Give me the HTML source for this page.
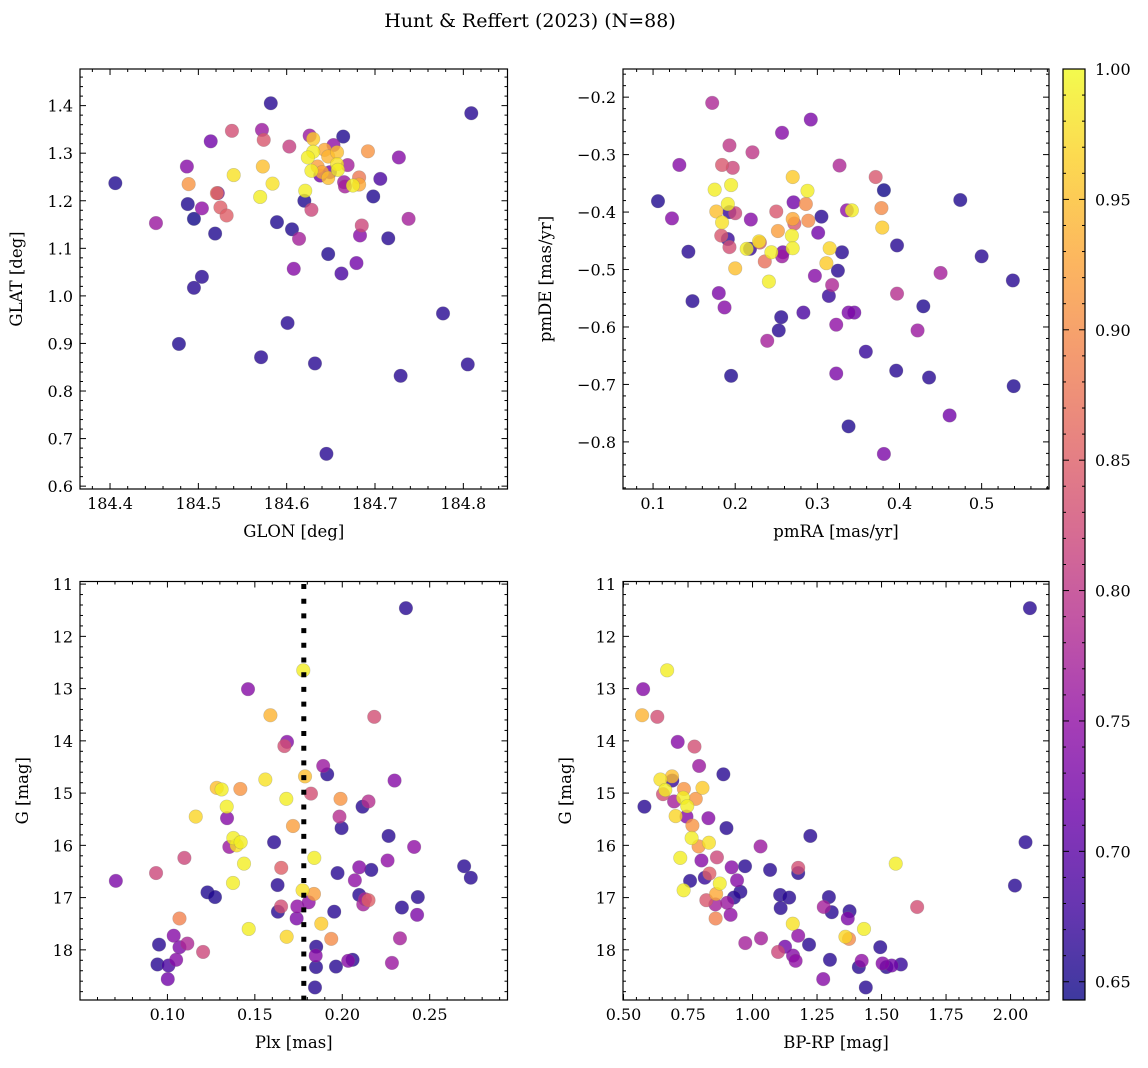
<!DOCTYPE html>
<html><head><meta charset="utf-8"><style>
body{margin:0;background:#fff}
svg{display:block;font-family:"DejaVu Serif","Liberation Serif",serif}
</style></head><body>
<svg id="fig" width="1148" height="1068" viewBox="0 0 1148 1068" xmlns="http://www.w3.org/2000/svg">
<defs>
<linearGradient id="cbgrad" x1="0" y1="1" x2="0" y2="0">
<stop offset="0" stop-color="#0d0887"/><stop offset="0.1" stop-color="#41049d"/><stop offset="0.2" stop-color="#6a00a8"/><stop offset="0.3" stop-color="#8f0da4"/><stop offset="0.4" stop-color="#b12a90"/><stop offset="0.5" stop-color="#cc4778"/><stop offset="0.6" stop-color="#e16462"/><stop offset="0.7" stop-color="#f2844b"/><stop offset="0.8" stop-color="#fca636"/><stop offset="0.9" stop-color="#fcce25"/><stop offset="1" stop-color="#f0f921"/>
</linearGradient>
</defs>
<text x="530" y="27" text-anchor="middle" font-size="19">Hunt &amp; Reffert (2023) (N=88)</text>
</svg>
<script>
// ---------- data ----------
const p1Lon=[184.406,184.452,184.487,184.489,184.488,184.495,184.504,184.519,184.514,184.538,184.522,184.521,184.525,184.532,184.540,184.572,184.574,184.573,184.584,184.570,184.582,184.589,184.606,184.614,184.603,184.608,184.504,184.495,184.478,184.571,184.601,184.632,184.645,184.647,184.662,184.679,184.683,184.685,184.715,184.738,184.727,184.706,184.698,184.692,184.664,184.809,184.777,184.805,184.729,184.626,184.630,184.653,184.643,184.630,184.657,184.624,184.647,184.635,184.628,184.640,184.638,184.657,184.658,184.647,184.649,184.669,184.665,184.666,184.682,184.682,184.675,184.620,184.621,184.628];
const p1Lat=[1.237,1.153,1.272,1.235,1.193,1.162,1.184,1.131,1.325,1.347,1.216,1.216,1.186,1.169,1.254,1.349,1.328,1.272,1.236,1.208,1.405,1.155,1.140,1.120,1.314,1.057,1.040,1.017,0.899,0.871,0.943,0.858,0.668,1.088,1.047,1.069,1.127,1.148,1.121,1.162,1.291,1.246,1.209,1.304,1.335,1.384,0.963,0.856,0.832,1.337,1.330,1.317,1.307,1.303,1.302,1.291,1.293,1.272,1.263,1.260,1.253,1.277,1.265,1.248,1.260,1.275,1.239,1.230,1.249,1.234,1.232,1.200,1.221,1.181];
const p1Prob=[0.655,0.76,0.74,0.91,0.655,0.645,0.75,0.655,0.72,0.83,0.72,0.87,0.85,0.85,0.98,0.76,0.84,0.95,0.98,0.99,0.66,0.655,0.655,0.77,0.81,0.74,0.66,0.66,0.655,0.66,0.66,0.66,0.66,0.655,0.685,0.72,0.74,0.82,0.66,0.77,0.74,0.685,0.655,0.91,0.655,0.66,0.66,0.66,0.66,0.76,0.96,0.75,0.93,0.99,0.95,0.99,0.94,0.92,0.99,0.93,0.72,0.98,0.99,0.95,0.72,0.77,0.76,0.77,0.88,0.93,0.99,0.655,0.99,0.82];

const p2RA=[0.172,0.292,0.257,0.193,0.221,0.132,0.184,0.197,0.327,0.371,0.381,0.270,0.288,0.175,0.195,0.106,0.474,0.191,0.271,0.286,0.378,0.342,0.336,0.177,0.193,0.200,0.123,0.219,0.250,0.270,0.272,0.289,0.305,0.184,0.252,0.269,0.379,0.301,0.183,0.191,0.193,0.214,0.218,0.229,0.230,0.244,0.258,0.257,0.270,0.315,0.330,0.397,0.143,0.200,0.236,0.311,0.325,0.500,0.538,0.450,0.241,0.297,0.318,0.314,0.148,0.180,0.187,0.397,0.429,0.256,0.283,0.338,0.345,0.253,0.239,0.323,0.422,0.359,0.195,0.323,0.396,0.436,0.539,0.461,0.338,0.381];
const p2DE=[-0.210,-0.239,-0.262,-0.284,-0.296,-0.318,-0.318,-0.323,-0.319,-0.339,-0.362,-0.339,-0.363,-0.361,-0.353,-0.381,-0.379,-0.386,-0.383,-0.386,-0.393,-0.397,-0.397,-0.399,-0.400,-0.402,-0.411,-0.413,-0.399,-0.412,-0.420,-0.415,-0.408,-0.418,-0.433,-0.441,-0.427,-0.436,-0.441,-0.447,-0.461,-0.464,-0.464,-0.451,-0.453,-0.470,-0.470,-0.477,-0.463,-0.463,-0.470,-0.458,-0.469,-0.498,-0.486,-0.489,-0.502,-0.477,-0.519,-0.506,-0.521,-0.511,-0.527,-0.546,-0.555,-0.541,-0.566,-0.542,-0.564,-0.583,-0.575,-0.575,-0.575,-0.606,-0.624,-0.596,-0.606,-0.643,-0.685,-0.681,-0.676,-0.688,-0.703,-0.754,-0.773,-0.821];
const p2Prob=[0.78,0.73,0.74,0.8,0.8,0.74,0.84,0.82,0.78,0.84,0.645,0.96,0.99,0.99,0.99,0.655,0.655,0.99,0.72,0.9,0.9,0.99,0.75,0.95,0.67,0.82,0.74,0.74,0.84,0.93,0.84,0.9,0.66,0.98,0.92,0.99,0.96,0.72,0.84,0.67,0.83,0.99,0.67,0.98,0.84,0.99,0.72,0.76,0.99,0.97,0.66,0.66,0.66,0.95,0.87,0.96,0.66,0.66,0.66,0.77,0.99,0.74,0.78,0.67,0.66,0.73,0.74,0.79,0.655,0.66,0.685,0.73,0.72,0.66,0.77,0.75,0.76,0.67,0.655,0.73,0.66,0.66,0.655,0.72,0.655,0.73];

const p3Plx=[0.2364,0.1777,0.1461,0.1589,0.2183,0.1684,0.1669,0.1891,0.1914,0.1787,0.1560,0.2299,0.1282,0.1310,0.1417,0.1821,0.1680,0.1990,0.2150,0.2116,0.1339,0.1162,0.1341,0.1984,0.1996,0.1718,0.2265,0.2411,0.1610,0.1377,0.1354,0.1396,0.1419,0.1438,0.1840,0.1097,0.1651,0.2259,0.2097,0.2166,0.1973,0.2697,0.2735,0.0935,0.0705,0.2072,0.1375,0.1630,0.1773,0.1838,0.1229,0.1272,0.2097,0.2130,0.2150,0.2120,0.2432,0.2341,0.2428,0.1650,0.1632,0.1743,0.1808,0.1739,0.1954,0.1880,0.1069,0.1465,0.1682,0.1937,0.2330,0.1036,0.0952,0.1069,0.1114,0.1204,0.1050,0.0943,0.1006,0.1002,0.1851,0.1848,0.1850,0.1964,0.2034,0.2059,0.2284,0.1844];
const p3G=[11.46,12.65,13.01,13.51,13.54,14.02,14.10,14.48,14.64,14.68,14.74,14.76,14.90,14.93,14.92,15.01,15.11,15.11,15.16,15.26,15.26,15.45,15.48,15.45,15.67,15.63,15.82,16.03,15.94,15.86,16.03,16.00,15.94,16.35,16.24,16.24,16.43,16.29,16.42,16.47,16.53,16.40,16.62,16.53,16.68,16.67,16.72,16.76,16.86,16.93,16.90,16.99,16.95,17.03,17.05,17.13,16.99,17.19,17.33,17.17,17.27,17.17,17.09,17.40,17.27,17.50,17.40,17.60,17.75,17.79,17.78,17.73,17.90,17.95,17.88,18.04,18.19,18.28,18.30,18.56,17.94,18.11,18.33,18.32,18.21,18.19,18.25,18.72];
const p3Prob=[0.66,0.99,0.74,0.94,0.83,0.74,0.83,0.76,0.66,0.95,0.98,0.74,0.95,0.99,0.91,0.83,0.99,0.91,0.79,0.66,0.99,0.97,0.74,0.79,0.66,0.92,0.66,0.75,0.66,0.99,0.76,0.98,0.99,0.99,0.99,0.82,0.85,0.75,0.74,0.66,0.66,0.66,0.66,0.82,0.73,0.75,0.99,0.66,0.98,0.92,0.655,0.655,0.66,0.78,0.85,0.77,0.66,0.66,0.73,0.83,0.66,0.75,0.75,0.73,0.66,0.96,0.89,0.99,0.97,0.9,0.77,0.74,0.66,0.73,0.78,0.82,0.74,0.66,0.685,0.72,0.66,0.74,0.66,0.66,0.74,0.66,0.76,0.66];

const p4BPRP=[2.075,0.669,0.576,0.572,0.631,0.710,0.775,0.793,0.887,0.688,0.643,0.689,0.734,0.806,0.662,0.653,0.696,0.731,0.780,0.747,0.581,0.702,0.744,0.829,0.767,0.899,0.764,0.831,0.791,1.224,1.031,0.802,0.720,0.862,0.919,0.971,1.068,1.177,1.177,1.555,0.833,0.815,0.758,0.940,0.873,0.953,0.928,0.859,0.733,0.821,0.856,0.902,0.915,0.857,1.107,1.142,1.109,1.296,1.276,1.307,1.376,1.369,1.638,1.156,1.177,1.360,1.374,1.432,0.972,1.033,1.099,1.126,1.157,1.167,1.219,1.300,1.495,1.274,1.412,1.423,1.439,1.504,1.519,1.539,1.575,2.017,2.058];
const p4G=[11.46,12.65,13.01,13.51,13.54,14.02,14.11,14.48,14.64,14.68,14.74,14.76,14.92,14.90,14.94,15.02,15.16,15.09,15.11,15.25,15.26,15.44,15.45,15.48,15.62,15.67,15.86,15.95,16.02,15.82,16.02,16.29,16.24,16.23,16.42,16.40,16.47,16.43,16.53,16.35,16.54,16.62,16.68,16.67,16.73,16.89,17.00,16.93,16.86,17.05,17.13,17.10,17.33,17.40,16.95,17.00,17.20,16.99,17.18,17.28,17.26,17.40,17.18,17.50,17.73,17.75,17.79,17.60,17.87,17.78,18.04,17.94,18.11,18.21,17.90,18.19,17.95,18.56,18.33,18.21,18.72,18.26,18.33,18.30,18.28,16.77,15.94];
const p4Prob=[0.66,0.99,0.74,0.94,0.83,0.74,0.83,0.76,0.66,0.95,0.98,0.67,0.91,0.96,0.99,0.83,0.77,0.99,0.91,0.99,0.66,0.97,0.74,0.74,0.91,0.66,0.99,0.98,0.91,0.66,0.76,0.74,0.99,0.82,0.74,0.66,0.66,0.83,0.66,0.99,0.85,0.67,0.66,0.74,0.99,0.66,0.66,0.93,0.99,0.84,0.77,0.76,0.75,0.89,0.66,0.66,0.66,0.66,0.77,0.66,0.66,0.73,0.83,0.98,0.75,0.97,0.9,0.99,0.77,0.77,0.82,0.72,0.74,0.75,0.66,0.66,0.66,0.74,0.66,0.75,0.66,0.74,0.66,0.72,0.67,0.66,0.66];

const p1XTicks=[184.4,184.5,184.6,184.7,184.8];
const p1YTicks=[0.6,0.7,0.8,0.9,1.0,1.1,1.2,1.3,1.4];
const p2XTicks=[0.1,0.2,0.3,0.4,0.5];
const p2YTicks=[-0.8,-0.7,-0.6,-0.5,-0.4,-0.3,-0.2];
const p3XTicks=[0.10,0.15,0.20,0.25];
const gTicks=[11,12,13,14,15,16,17,18];
const p4XTicks=[0.50,0.75,1.00,1.25,1.50,1.75,2.00];
const cbTicks=[0.65,0.70,0.75,0.80,0.85,0.90,0.95,1.00];
const plxCut=0.178;

// ---------- helpers ----------
const NS='http://www.w3.org/2000/svg';
const svg=document.getElementById('fig');
function mk(tag,attrs,parent){const e=document.createElementNS(NS,tag);for(const k in attrs)e.setAttribute(k,attrs[k]);(parent||svg).appendChild(e);return e;}
const VMIN=0.643,VMAX=1.0;
const stops=[[13,8,135],[65,4,157],[106,0,168],[143,13,164],[177,42,144],[204,71,120],[225,100,98],[242,132,75],[252,166,54],[252,206,37],[240,249,33]];
function plasma(v){let t=(v-VMIN)/(VMAX-VMIN);t=Math.max(0,Math.min(1,t));const f=t*10,i=Math.min(9,Math.floor(f)),r=f-i;const a=stops[i],b=stops[i+1];return 'rgb('+[0,1,2].map(k=>Math.round(a[k]+(b[k]-a[k])*r)).join(',')+')';}

function panel(o){
  const {x0,x1,y0,y1,xmin,xmax,ymin,ymax,invY}=o;
  const sx=v=>x0+(v-xmin)/(xmax-xmin)*(x1-x0);
  const sy=invY?(v=>y0+(v-ymin)/(ymax-ymin)*(y1-y0)):(v=>y1-(v-ymin)/(ymax-ymin)*(y1-y0));
  const g=mk('g',{});
  
  
  const idx=o.xs.map((_,i)=>i).sort((a,b)=>o.ps[a]-o.ps[b]);
  const pg=mk('g',{},g);
  for(const i of idx){
    const c=mk('circle',{cx:sx(o.xs[i]),cy:sy(o.ys[i]),r:6.8,fill:plasma(o.ps[i]),'fill-opacity':0.8,stroke:'#777','stroke-opacity':0.35,'stroke-width':0.6},pg);
    
    
  }
  if(o.extra)o.extra(g,sx,sy);
  const fr=mk('rect',{x:x0,y:y0,width:x1-x0,height:y1-y0,fill:'none',stroke:'#000','stroke-width':1.2},g);
  
  
  const tg=mk('g',{stroke:'#000','stroke-width':1},g);
  const lo=Math.min(ymin,ymax),hi=Math.max(ymin,ymax);
  for(let k=Math.ceil(xmin/o.xminor-1e-6);k*o.xminor<=xmax+1e-9;k++){
    const v=k*o.xminor,X=sx(v);const maj=o.xt.some(t=>Math.abs(t-v)<1e-6);const L=maj?6:3;
    mk('line',{x1:X,y1:y1,x2:X,y2:y1-L},tg);mk('line',{x1:X,y1:y0,x2:X,y2:y0+L},tg);
  }
  for(let k=Math.ceil(lo/o.yminor-1e-6);k*o.yminor<=hi+1e-9;k++){
    const v=k*o.yminor,Y=sy(v);const maj=o.yt.some(t=>Math.abs(t-v)<1e-6);const L=maj?6:3;
    mk('line',{x1:x0,y1:Y,x2:x0+L,y2:Y},tg);mk('line',{x1:x1,y1:Y,x2:x1-L,y2:Y},tg);
  }
  for(const t of o.xt){if(t<xmin-1e-9||t>xmax+1e-9)continue;
    const e=mk('text',{x:sx(t),y:y1+20,'text-anchor':'middle','font-size':16},g);e.textContent=t.toFixed(o.xd);
    
    }
  for(const t of o.yt){if(t<lo-1e-9||t>hi+1e-9)continue;
    const e=mk('text',{x:x0-7,y:sy(t)+6,'text-anchor':'end','font-size':16},g);e.textContent=t.toFixed(o.yd).replace('-','\u2212');
    
    }
  const xl=mk('text',{x:(x0+x1)/2,y:y1+48,'text-anchor':'middle','font-size':16.5},g);xl.textContent=o.xlabel;
  
  
  const yl=mk('text',{x:o.ylx,y:(y0+y1)/2,'text-anchor':'middle','font-size':16.5,transform:'rotate(-90 '+o.ylx+' '+(y0+y1)/2+')'},g);yl.textContent=o.ylabel;
  
  
}

panel({name:'glon-glat-panel',x0:80,x1:507.5,y0:69,y1:489,xmin:184.366,xmax:184.850,ymin:0.594,ymax:1.477,xs:p1Lon,ys:p1Lat,ps:p1Prob,xt:p1XTicks,yt:p1YTicks,xminor:0.02,yminor:0.02,xd:1,yd:1,xlabel:'GLON [deg]',ylabel:'GLAT [deg]',ylx:22});
panel({name:'proper-motion-panel',x0:623,x1:1049,y0:69,y1:489,xmin:0.0634,xmax:0.582,ymin:-0.882,ymax:-0.151,xs:p2RA,ys:p2DE,ps:p2Prob,xt:p2XTicks,yt:p2YTicks,xminor:0.02,yminor:0.02,xd:1,yd:1,xlabel:'pmRA [mas/yr]',ylabel:'pmDE [mas/yr]',ylx:551});
panel({name:'parallax-magnitude-panel',x0:80,x1:507.5,y0:581.5,y1:1000,xmin:0.050,xmax:0.2945,ymin:10.95,ymax:18.96,invY:true,xs:p3Plx,ys:p3G,ps:p3Prob,xt:p3XTicks,yt:gTicks,xminor:0.01,yminor:0.2,xd:2,yd:0,xlabel:'Plx [mas]',ylabel:'G [mag]',ylx:28,
  extra:(g,sx,sy)=>{const l=mk('line',{x1:sx(plxCut),x2:sx(plxCut),y1:584,y2:1000,stroke:'#000','stroke-width':5,'stroke-dasharray':'5 9.7'},g);
    
    }});
panel({name:'color-magnitude-panel',x0:623,x1:1049,y0:581.5,y1:1000,xmin:0.498,xmax:2.149,ymin:10.95,ymax:18.96,invY:true,xs:p4BPRP,ys:p4G,ps:p4Prob,xt:p4XTicks,yt:gTicks,xminor:0.05,yminor:0.2,xd:2,yd:0,xlabel:'BP-RP [mag]',ylabel:'G [mag]',ylx:571});

(function(){
  const x0=1063,x1=1085,y0=69,y1=1000;
  const sy=v=>y1-(v-VMIN)/(VMAX-VMIN)*(y1-y0);
  const g=mk('g',{});
  
  
  mk('rect',{x:x0,y:y0,width:x1-x0,height:y1-y0,fill:'url(#cbgrad)','fill-opacity':0.8},g);
  mk('rect',{x:x0,y:y0,width:x1-x0,height:y1-y0,fill:'none',stroke:'#000','stroke-width':1.2},g);
  for(let k=65;k<=100;k++){const v=k/100,Y=sy(v);const maj=k%5===0;
    mk('line',{x1:x1,y1:Y,x2:x1-(maj?6:3),y2:Y,stroke:'#000','stroke-width':1},g);
    mk('line',{x1:x0,y1:Y,x2:x0+(maj?6:3),y2:Y,stroke:'#000','stroke-width':1},g);}
  for(const t of cbTicks){const e=mk('text',{x:x1+10,y:sy(t)+6,'font-size':16},g);e.textContent=t.toFixed(2);
    
    }
})();
</script>
</body></html>
